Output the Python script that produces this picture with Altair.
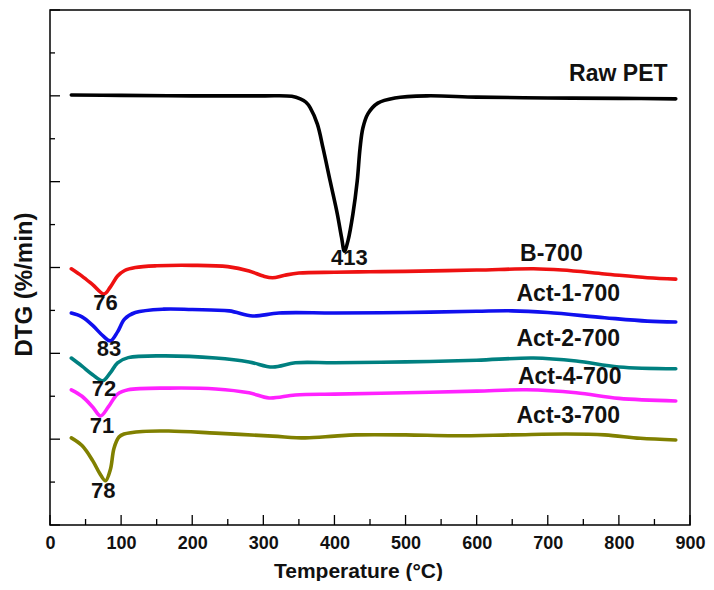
import altair as alt
import pandas as pd

# ---- data ----
raw_T = [30, 100, 200, 300, 340, 352, 360, 366, 376, 384, 394, 404, 410, 414, 419, 426, 432, 436, 440, 447, 461, 485, 530, 600, 700, 800, 880]
raw_v = [10.02, 10.01, 10.0, 10.0, 9.99, 9.93, 9.85, 9.72, 9.34, 8.78, 8.01, 7.25, 6.7, 6.38, 6.62, 7.25, 8.01, 8.78, 9.25, 9.58, 9.83, 9.95, 10.0, 9.97, 9.95, 9.94, 9.93]

b700_T = [30, 45, 60, 76, 85, 95, 105, 120, 150, 200, 250, 280, 300, 313, 330, 350, 400, 450, 500, 600, 680, 720, 780, 840, 880]
b700_v = [5.97, 5.8, 5.6, 5.38, 5.55, 5.8, 5.93, 6.0, 6.04, 6.05, 6.02, 5.92, 5.8, 5.76, 5.82, 5.87, 5.89, 5.90, 5.91, 5.94, 5.97, 5.94, 5.85, 5.76, 5.73]

act1_T = [30, 45, 60, 75, 85, 95, 105, 120, 160, 200, 252, 285, 322, 400, 500, 600, 650, 700, 780, 840, 880]
act1_v = [4.94, 4.85, 4.65, 4.4, 4.29, 4.5, 4.8, 4.95, 5.03, 5.02, 4.99, 4.87, 4.94, 4.94, 4.95, 4.98, 4.99, 4.95, 4.83, 4.75, 4.73]

act2_T = [30, 45, 60, 74, 85, 95, 110, 160, 233, 280, 313, 345, 400, 500, 600, 680, 740, 800, 880]
act2_v = [3.89, 3.7, 3.5, 3.36, 3.55, 3.78, 3.9, 3.94, 3.89, 3.8, 3.68, 3.78, 3.78, 3.80, 3.84, 3.89, 3.82, 3.68, 3.64]

act4_T = [30, 45, 60, 71, 82, 95, 110, 167, 233, 280, 308, 345, 400, 500, 600, 670, 740, 800, 880]
act4_v = [3.15, 3.0, 2.75, 2.54, 2.75, 3.05, 3.15, 3.19, 3.17, 3.08, 2.96, 3.03, 3.05, 3.08, 3.12, 3.15, 3.08, 2.95, 2.89]

act3_T = [30, 45, 60, 70, 78, 85, 90, 97, 104, 130, 167, 233, 313, 359, 400, 430, 500, 568, 650, 726, 780, 830, 880]
act3_v = [2.03, 1.85, 1.5, 1.2, 1.03, 1.3, 1.79, 2.05, 2.12, 2.18, 2.19, 2.14, 2.07, 2.03, 2.07, 2.10, 2.10, 2.08, 2.10, 2.12, 2.10, 2.02, 1.98]

series_names = ["Raw PET", "B-700", "Act-1-700", "Act-2-700", "Act-4-700", "Act-3-700"]
series_colors = ["#000000", "#ee1111", "#1010ee", "#008080", "#ff22ff", "#808000"]

# curve name labels (right side)
name_T = [730, 661, 656, 656, 658, 656]
name_v = [10.51, 6.31, 5.38, 4.33, 3.45, 2.54]

# peak temperature labels
peak_text = ["413", "76", "83", "72", "71", "78"]
peak_T = [421, 78, 83, 76, 73, 75]
peak_v = [6.22, 5.17, 4.10, 3.17, 2.31, 0.79]

# axis ticks
x_major = list(range(0, 901, 100))
x_minor = list(range(50, 900, 100))
y_major = [0, 2, 4, 6, 8, 10, 12]
y_minor = [1, 3, 5, 7, 9, 11]

# ---- build tables ----
rows = []
for name, T, v in zip(series_names,
                      [raw_T, b700_T, act1_T, act2_T, act4_T, act3_T],
                      [raw_v, b700_v, act1_v, act2_v, act4_v, act3_v]):
    for t, val in zip(T, v):
        rows.append({"T": t, "v": val, "s": name})
df = pd.DataFrame(rows)
names_df = pd.DataFrame({"T": name_T, "v": name_v, "s": series_names})
peaks_df = pd.DataFrame({"T": peak_T, "v": peak_v, "label": peak_text})

W, H = 640, 515
xscale = alt.Scale(domain=[0, 900], nice=False, zero=False)
yscale = alt.Scale(domain=[0, 12], nice=False, zero=False)
xaxis = alt.Axis(values=x_major, ticks=False, domain=False, grid=False, labelPadding=9,
                 labelFlush=False, title="Temperature (°C)", titlePadding=8, titleX=308,
                 format="d")
yaxis = alt.Axis(labels=False, ticks=False, domain=False, grid=False,
                 title="DTG (%/min)", titlePadding=14, titleY=274, titleFontSize=24)

def X():
    return alt.X("T:Q", scale=xscale, axis=xaxis)

def Y():
    return alt.Y("v:Q", scale=yscale, axis=yaxis)

color = alt.Color("s:N", scale=alt.Scale(domain=series_names, range=series_colors), legend=None)

lines = alt.Chart(df).mark_line(strokeWidth=3.6, interpolate="catmull-rom", strokeCap="round",
                                strokeJoin="round").encode(x=X(), y=Y(), color=color, detail="s:N")

name_text = alt.Chart(names_df).mark_text(align="left", baseline="middle", fontSize=23,
                                          fontWeight="bold", font="Liberation Sans", color="#111").encode(
    x=X(), y=Y(), text="s:N")

peak_labels = alt.Chart(peaks_df).mark_text(align="center", baseline="middle", fontSize=22,
                                            fontWeight="bold", font="Liberation Sans", color="#111").encode(
    x=X(), y=Y(), text="label:N")

xmaj = alt.Chart(pd.DataFrame({"T": x_major})).mark_rule(color="black", strokeWidth=1.3).encode(
    x=X(), y=alt.value(H), y2=alt.value(H - 10))
xmin = alt.Chart(pd.DataFrame({"T": x_minor})).mark_rule(color="black", strokeWidth=1.3).encode(
    x=X(), y=alt.value(H), y2=alt.value(H - 6))
ymaj = alt.Chart(pd.DataFrame({"v": y_major})).mark_rule(color="black", strokeWidth=1.3).encode(
    y=Y(), x=alt.value(0), x2=alt.value(10))
ymin = alt.Chart(pd.DataFrame({"v": y_minor})).mark_rule(color="black", strokeWidth=1.3).encode(
    y=Y(), x=alt.value(0), x2=alt.value(5))

chart = alt.layer(lines, xmaj, xmin, ymaj, ymin, name_text, peak_labels).properties(
    width=W, height=H,
    padding={"left": 4, "top": 1, "right": 0, "bottom": 0},
).configure_view(
    stroke="black", strokeWidth=1.5
).configure_axis(
    labelFont="Liberation Sans", labelFontSize=18, labelFontWeight="bold", labelColor="#111",
    titleFont="Liberation Sans", titleFontSize=21, titleFontWeight="bold", titleColor="#111"
)

chart.save("out.html", embed_options={"renderer": "svg", "actions": False})
